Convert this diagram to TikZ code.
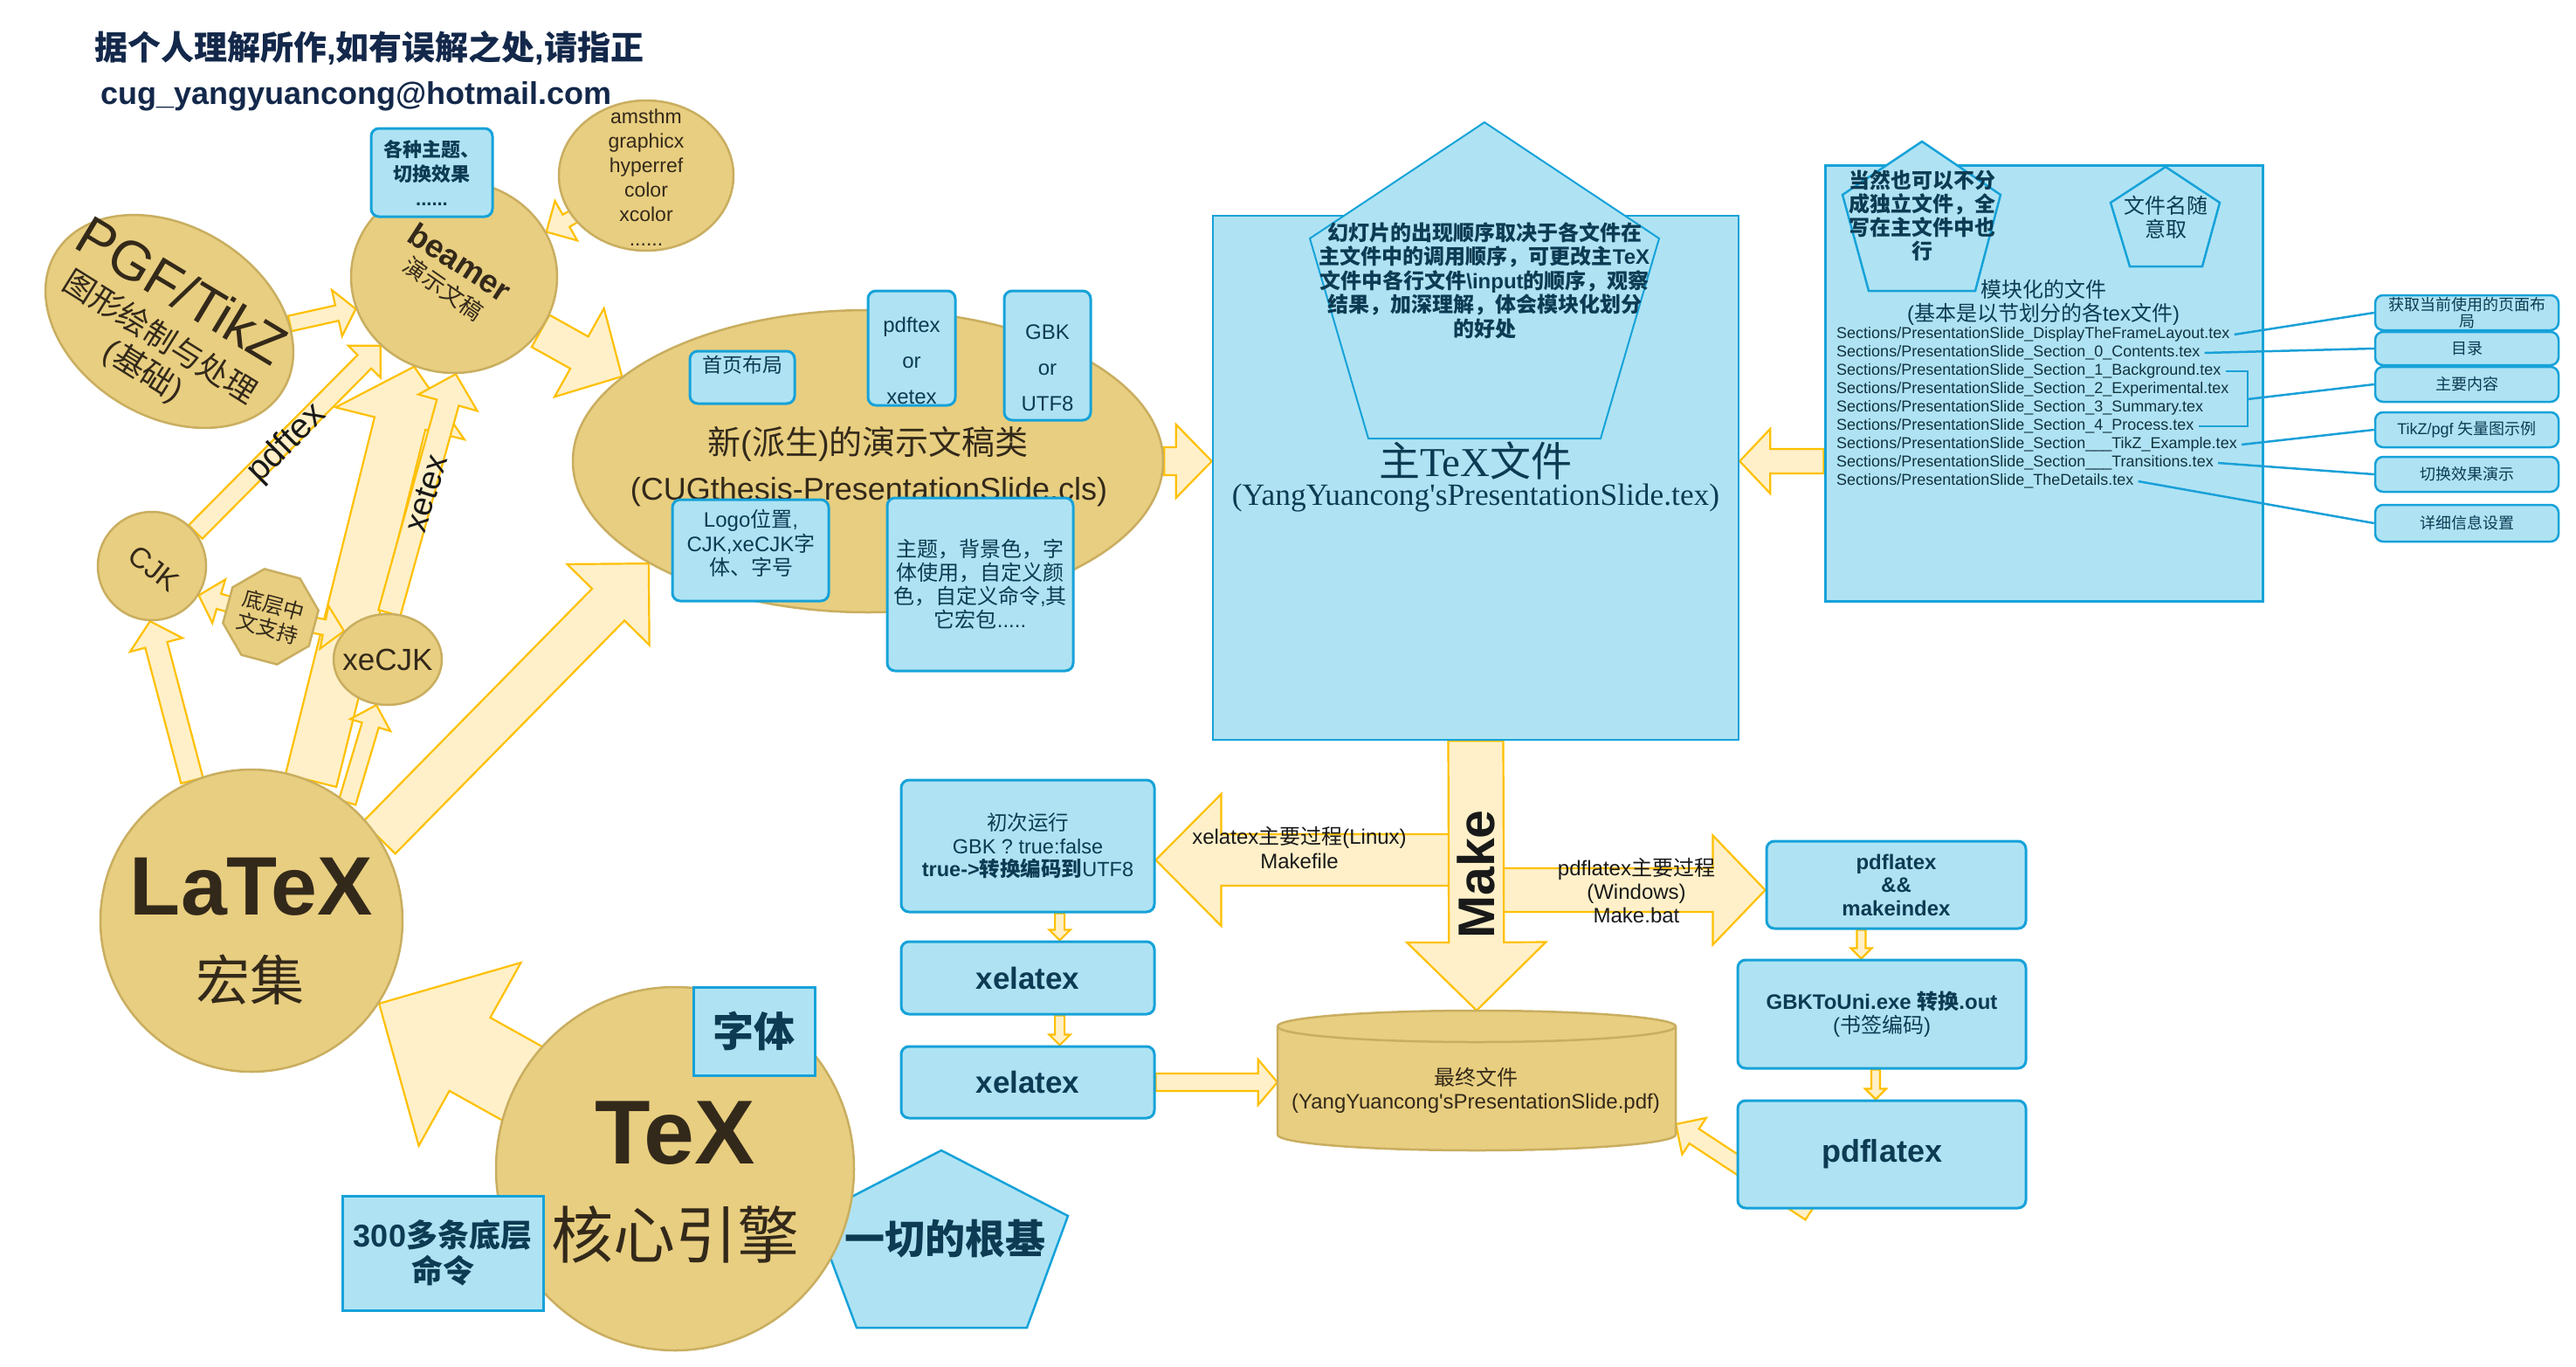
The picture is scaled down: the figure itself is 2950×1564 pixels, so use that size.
\documentclass[tikz,border=0pt]{standalone}
\usepackage{fontspec}
\setmainfont{Liberation Sans}
\newfontfamily\serifam{Liberation Serif}
\newfontfamily\cjkfam{Noto Sans CJK SC}[NFSSFamily=notocjk]
\usetikzlibrary{shapes.geometric,calc}

% chinese characters switch to Noto Sans CJK by themselves
\makeatletter
\chardef\cjkcls=7
\count@=0
\loop\ifnum\count@<"10000 \XeTeXcharclass\count@=0 \advance\count@ by 1 \repeat
\def\cjkrange#1#2{\count@=#1 \loop\ifnum\count@<#2 \XeTeXcharclass\count@=\cjkcls \advance\count@ by 1 \repeat}
\cjkrange{"2E80}{"A000}
\cjkrange{"F900}{"FB00}
\cjkrange{"FF00}{"FFF0}
\newif\ifcjkmode
\def\cjkon{\ifcjkmode\else\edef\latinfam{\f@family}\cjkfam\cjkmodetrue\fi}
\def\cjkoff{\ifcjkmode\fontfamily{\latinfam}\selectfont\cjkmodefalse\fi}
\XeTeXinterchartoks 0 \cjkcls = {\cjkon}
\XeTeXinterchartoks 4095 \cjkcls = {\cjkon}
\XeTeXinterchartoks \cjkcls 0 = {\cjkoff}
\XeTeXinterchartokenstate=1
\makeatother

\definecolor{goldfill}{HTML}{E8CE80}
\definecolor{golddraw}{HTML}{C9AE60}
\definecolor{goldtext}{HTML}{33291A}
\definecolor{boxfill}{HTML}{AFE3F3}
\definecolor{boxdraw}{HTML}{16A2D9}
\definecolor{tealtext}{HTML}{0C3B53}
\definecolor{sectext}{HTML}{12323F}
\definecolor{arrowfill}{HTML}{FFF0C9}
\definecolor{arrowdraw}{HTML}{FFC000}
\definecolor{linkblue}{HTML}{1AA0D8}
\definecolor{titletext}{HTML}{13284A}

\pgfdeclarelayer{paper}
\pgfdeclarelayer{under}
\pgfsetlayers{paper,under,main}

\newcommand\fsz[2]{\fontsize{#1}{#2}\selectfont}
% block arrow: tail, tip, half shaft, half head, head length
\newcommand\fatarrow[5]{%
  \coordinate (fa-a) at (#1);
  \coordinate (fa-b) at (#2);
  \coordinate (fa-h) at ($(fa-b)!#5!(fa-a)$);
  \filldraw[fat] ($(fa-a)!#3!90:(fa-b)$) -- ($(fa-h)!#3!90:(fa-b)$) -- ($(fa-h)!#4!90:(fa-b)$) -- (fa-b)
    -- ($(fa-h)!#4!-90:(fa-b)$) -- ($(fa-h)!#3!-90:(fa-b)$) -- ($(fa-a)!#3!-90:(fa-b)$) -- cycle;}

\begin{document}
\begin{tikzpicture}[x=1pt, y=-1pt]
\tikzset{
  gold/.style={ellipse, draw=golddraw, fill=goldfill, line width=2.5pt, inner sep=0pt},
  goldtxt/.style={text=goldtext, inner sep=0pt, align=center},
  bluebox/.style={draw=boxdraw, fill=boxfill, line width=3pt, rounded corners=9pt, inner sep=2pt, align=center, text=tealtext},
  squarebox/.style={bluebox, rounded corners=0pt},
  bluetxt/.style={text=tealtext, inner sep=0pt, align=center},
  fat/.style={draw=arrowdraw, fill=arrowfill, line width=2.2pt, line join=miter},
  link/.style={draw=linkblue, line width=2.5pt},
  secline/.style={anchor=west, inner ysep=1pt, inner xsep=5pt, text=sectext, font=\fsz{18}{21}},
  tag/.style={bluebox, minimum width=210pt, line width=2.5pt, inner sep=1pt, font=\fsz{18}{19}},
  penta/.style={draw=boxdraw, fill=boxfill, line width=2.5pt, line join=miter},
  cyl/.style={draw=golddraw, fill=goldfill, line width=2.5pt},
  note/.style={inner sep=0pt, align=center, text=black!90},
}

\useasboundingbox (0,0) rectangle (2950,1564);
\begin{pgfonlayer}{paper}
\fill[white] (0,0) rectangle (2950,1564);
\end{pgfonlayer}

\node[anchor=west, inner sep=0pt, text=titletext, font=\fsz{38}{40}\bfseries] (title) at (108,55) {据个人理解所作,如有误解之处,请指正};
\node[anchor=west, inner sep=0pt, text=titletext, font=\fsz{36}{40}\bfseries] (mail) at (115,110) {cug\_yangyuancong@hotmail.com};

% PGF, beamer, packages
\node[gold, rotate=-31, minimum width=304pt, minimum height=218pt] (pgf) at (194,368) {};
\node[goldtxt, rotate=-31, font=\fsz{63}{66}] (pgf-t) at (209,332) {PGF/TikZ};
\node[goldtxt, rotate=-32, font=\fsz{36}{40}] (pgf-cn) at (184,385) {图形绘制与处理};
\node[goldtxt, rotate=-32, font=\fsz{37}{40}] (pgf-base) at (164,425) {(基础)};

\node[gold, minimum width=200pt, minimum height=172pt] (ams) at (740,201) {};
\node[goldtxt, font=\fsz{23}{28}] (ams-t) at (740,203) {amsthm\\graphicx\\hyperref\\color\\xcolor\\......};

\node[gold, minimum width=236pt, minimum height=220pt] (beamer) at (520,317) {};
\node[goldtxt, rotate=-33, font=\fsz{37}{40}\bfseries] (beamer-t) at (527,300) {beamer};
\node[goldtxt, rotate=-35, font=\fsz{26}{30}] (beamer-cn) at (508,330) {演示文稿};
\node[bluebox, minimum width=139pt, minimum height=101pt, font=\fsz{22}{28}\bfseries] (themes) at (494.5,197.5) {各种主题、\\切换效果\\......};

% the new class
\node[gold, minimum width=676pt, minimum height=346pt] (cls) at (994,528) {};
\node[goldtxt, font=\fsz{38}{40}] (cls-cn) at (994,508) {新(派生)的演示文稿类};
\node[goldtxt, font=\fsz{36}{40}] (cls-t) at (995,563) {(CUGthesis-PresentationSlide.cls)};
\node[bluebox, minimum width=120pt, minimum height=60pt] (home) at (850,432) {};
\node[bluetxt, font=\fsz{23}{26}] (home-t) at (850,418) {首页布局};
\node[bluebox, minimum width=100pt, minimum height=131pt] (pdfx) at (1044,398.5) {};
\node[bluetxt, font=\fsz{24}{41}] (pdfx-t) at (1044,413) {pdftex\\or\\xetex};
\node[bluebox, minimum width=99pt, minimum height=148pt] (utf) at (1199.5,407) {};
\node[bluetxt, font=\fsz{24}{41}] (utf-t) at (1199.5,421) {GBK\\or\\UTF8};
\node[bluebox, minimum width=179pt, minimum height=116pt] (logo) at (859.5,630) {};
\node[bluetxt, font=\fsz{24}{27.5}] (logo-t) at (860,622) {Logo位置,\\CJK,xeCJK字\\体、字号};
\node[bluebox, minimum width=213pt, minimum height=198pt, font=\fsz{24}{27}] (theme) at (1122.5,669) {主题，背景色，字\\体使用，自定义颜\\色，自定义命令,其\\它宏包.....};

% CJK support
\node[gold, minimum width=124pt, minimum height=124pt] (cjk) at (174,648) {};
\node[goldtxt, rotate=-38, font=\fsz{33}{36}] (cjk-t) at (176,651) {CJK};
\node[gold, minimum width=124pt, minimum height=104pt] (xecjk) at (444,755) {};
\node[goldtxt, font=\fsz{35}{38}] (xecjk-t) at (444,755) {xeCJK};
\node[gold, regular polygon, regular polygon sides=8, rotate=-15, minimum size=108pt, text=goldtext, align=center, font=\fsz{24}{27}] (oct) at (310,706) {底层中\\文支持};

% LaTeX and TeX
\node[gold, minimum width=346pt, minimum height=346pt] (latex) at (288,1054) {};
\node[goldtxt, font=\fsz{95}{100}\bfseries] (latex-t) at (288,1015) {LaTeX};
\node[goldtxt, font=\fsz{62}{66}] (latex-cn) at (286,1122) {宏集};

\draw[penta] (1078,1317) -- (1223,1392) -- (1176,1520) -- (981,1520) -- (933,1392) -- cycle;
\node[gold, minimum width=410pt, minimum height=416pt] (tex) at (773,1338) {};
\node[goldtxt, font=\fsz{104}{110}\bfseries] (tex-t) at (773,1297) {TeX};
\node[goldtxt, font=\fsz{71}{75}] (tex-cn) at (773,1413) {核心引擎};
\node[squarebox, minimum width=139pt, minimum height=101pt, font=\fsz{47}{50}\bfseries] (ziti) at (863.5,1180.5) {字体};
\node[squarebox, minimum width=230pt, minimum height=131pt, font=\fsz{36}{41}\bfseries] (cmds) at (507,1434.5) {300多条底层\\命令};
\node[bluetxt, font=\fsz{46}{50}\bfseries] (root) at (1082,1418) {一切的根基};

% main file
\node[squarebox, line width=2.5pt, minimum width=602pt, minimum height=600pt] (main) at (1690,547) {};
\draw[penta, line width=2pt] (1700,140) -- (1900,273) -- (1833,502) -- (1567,502) -- (1500,273) -- cycle;
\node[bluetxt, font=\fsz{24}{27.5}\bfseries] (order) at (1700,321) {幻灯片的出现顺序取决于各文件在\\主文件中的调用顺序，可更改主TeX\\文件中各行文件\textbackslash input的顺序，观察\\结果，加深理解，体会模块化划分\\的好处};
\node[bluetxt, font=\serifam\fsz{47}{50}] (main-cn) at (1690,527) {主TeX文件};
\node[bluetxt, font=\serifam\fsz{35.4}{40}] (main-t) at (1690,570) {(YangYuancong\textquotesingle sPresentationSlide.tex)};

% section files
\node[squarebox, minimum width=501pt, minimum height=499pt] (mod) at (2340.5,438.5) {};
\draw[penta] (2201,162) -- (2291,223) -- (2262,333) -- (2140,333) -- (2110,223) -- cycle;
\draw[penta] (2480,191) -- (2542,232) -- (2522,305) -- (2439,305) -- (2417,232) -- cycle;
\node[bluetxt, font=\fsz{24}{27}\bfseries] (split) at (2201,247) {当然也可以不分\\成独立文件，全\\写在主文件中也\\行};
\node[bluetxt, font=\fsz{24}{27}] (names) at (2480,248.5) {文件名随\\意取};
\node[bluetxt, font=\fsz{24}{27}] (mod-t) at (2340,346.5) {模块化的文件\\(基本是以节划分的各tex文件)};

\node[secline] (s1) at (2098,383) {Sections/PresentationSlide\_DisplayTheFrameLayout.tex};
\node[secline] (s2) at (2098,404) {Sections/PresentationSlide\_Section\_0\_Contents.tex};
\node[secline] (s3) at (2098,425) {Sections/PresentationSlide\_Section\_1\_Background.tex};
\node[secline] (s4) at (2098,446) {Sections/PresentationSlide\_Section\_2\_Experimental.tex};
\node[secline] (s5) at (2098,467) {Sections/PresentationSlide\_Section\_3\_Summary.tex};
\node[secline] (s6) at (2098,488) {Sections/PresentationSlide\_Section\_4\_Process.tex};
\node[secline] (s7) at (2098,509) {Sections/PresentationSlide\_Section\_\_\_TikZ\_Example.tex};
\node[secline] (s8) at (2098,530) {Sections/PresentationSlide\_Section\_\_\_Transitions.tex};
\node[secline] (s9) at (2098,551) {Sections/PresentationSlide\_TheDetails.tex};

\node[tag, minimum height=40pt] (r1) at (2825,358) {获取当前使用的页面布\\局};
\node[tag, minimum height=38pt] (r2) at (2825,399) {目录};
\node[tag, minimum height=40pt] (r3) at (2825,440) {主要内容};
\node[tag, minimum height=40pt] (r4) at (2825,492) {TikZ/pgf 矢量图示例};
\node[tag, minimum height=40pt] (r5) at (2825,543) {切换效果演示};
\node[tag, minimum height=42pt] (r6) at (2825,599) {详细信息设置};

\coordinate (brace) at (2574,457);
\draw[link] (s1.east) -- (r1.west);
\draw[link] (s2.east) -- (r2.west);
\draw[link] (s3.east) -- (brace |- s3.east) -- (brace |- s6.east) -- (s6.east);
\draw[link] (brace) -- (r3.west);
\draw[link] (s7.east) -- (r4.west);
\draw[link] (s8.east) -- (r5.west);
\draw[link] (s9.east) -- (r6.west);

% build chains
\node[bluebox, minimum width=290pt, minimum height=151pt, font=\fsz{23.5}{26.5}] (first) at (1177,968.5) {初次运行\\GBK ? true:false\\{\bfseries true->转换编码到}UTF8};
\node[bluebox, minimum width=290pt, minimum height=83pt, font=\fsz{35}{38}\bfseries] (xl1) at (1177,1119.5) {xelatex};
\node[bluebox, minimum width=290pt, minimum height=82pt, font=\fsz{35}{38}\bfseries] (xl2) at (1177,1239) {xelatex};

\draw[cyl] (1463,1175) -- (1463,1299) arc[start angle=180, end angle=360, x radius=228pt, y radius=18pt]
  -- (1919,1175) arc[start angle=0, end angle=180, x radius=228pt, y radius=18pt] -- cycle;
\draw[cyl, fill=none] (1463,1175) arc[start angle=180, end angle=360, x radius=228pt, y radius=18pt];
\node[minimum width=456pt, minimum height=160pt, inner sep=0pt] (pdf) at (1691,1237) {};
\node[goldtxt, font=\fsz{24}{27}] (pdf-t) at (1690,1248.5) {最终文件\\(YangYuancong\textquotesingle sPresentationSlide.pdf)};

\node[bluebox, minimum width=297pt, minimum height=100pt, font=\fsz{24}{26.5}\bfseries] (mi) at (2171.5,1013) {pdflatex\\\&\&\\makeindex};
\node[bluebox, minimum width=330pt, minimum height=124pt, font=\fsz{24}{27}] (gbk) at (2155,1161) {{\bfseries GBKToUni.exe 转换.out}\\(书签编码)};
\node[bluebox, minimum width=330pt, minimum height=123pt, font=\fsz{36}{40}\bfseries] (pl) at (2155,1321.5) {pdflatex};

\coordinate (mk1) at (1690,984.5);
\coordinate (mk2) at (1690,1019);
\coordinate (mi-arr) at ([xshift=-40pt]mi.south);
\coordinate (gbk-arr) at ([xshift=-7pt]gbk.south);
\coordinate (pltail) at (2073,1388);

% labels on the arrows
\node[note, rotate=45, font=\fsz{40}{44}] (lbl-pdftex) at (329,508) {pdftex};
\node[note, rotate=73, font=\fsz{38}{42}] (lbl-xetex) at (488,565) {xetex};
\node[note, font=\fsz{24}{28}] (linux) at (1488,971) {xelatex主要过程(Linux)\\Makefile};
\node[note, font=\fsz{24}{27}] (win) at (1874,1020) {pdflatex主要过程\\(Windows)\\Make.bat};

\begin{pgfonlayer}{under}
\fatarrow{latex.67}{beamer.246}{30pt}{76pt}{67pt}
\fatarrow{xecjk.88}{beamer.271}{13pt}{35pt}{34pt}
\fatarrow{latex.51}{xecjk.256}{10pt}{24pt}{24pt}
\fatarrow{oct.center}{cjk.-32}{9pt}{26pt}{24pt}
\fatarrow{oct.center}{xecjk.147}{9pt}{25pt}{23pt}
\fatarrow{cjk.38}{beamer.223}{11pt}{26pt}{26pt}
\fatarrow{latex.113}{cjk.268}{13pt}{31pt}{28pt}
\fatarrow{latex.33}{cls.205}{26pt}{66pt}{66pt}
\fatarrow{pgf.30}{beamer.198}{9pt}{27pt}{22pt}
\fatarrow{beamer.-32}{cls.161}{21pt}{58pt}{56pt}
\fatarrow{ams.center}{beamer.26}{8pt}{26pt}{26pt}
\fatarrow{tex.center}{latex.-33}{48pt}{120pt}{119pt}
\fatarrow{cls.east}{main.west |- cls.east}{16pt}{42pt}{41pt}
\fatarrow{mod.west |- cls.east}{main.east |- cls.east}{14pt}{37pt}{35pt}
\fatarrow{pdfx.east}{utf.west |- pdfx.east}{4.5pt}{13pt}{15pt}
\fatarrow{mk1}{first.east |- mk1}{29.5pt}{75.5pt}{75pt}
\fatarrow{mk2}{mi.west |- mk2}{25pt}{62.5pt}{60pt}
\fatarrow{main.south}{pdf.north}{31.5pt}{79.5pt}{78pt}
\fatarrow{$(first.south)!0.25!(first.south east)$}{$(xl1.north)!0.25!(xl1.north east)$}{5.5pt}{12pt}{12pt}
\fatarrow{$(xl1.south)!0.25!(xl1.south east)$}{$(xl2.north)!0.25!(xl2.north east)$}{5.5pt}{12pt}{12pt}
\fatarrow{xl2.east}{pdf.west |- xl2.east}{10pt}{26pt}{22pt}
\fatarrow{mi-arr}{mi-arr |- gbk.north}{5pt}{12pt}{12pt}
\fatarrow{gbk-arr}{gbk-arr |- pl.north}{5pt}{12pt}{12pt}
\fatarrow{pltail}{[yshift=-50pt]pdf.east}{10pt}{25pt}{25pt}
\end{pgfonlayer}

\node[note, rotate=90, font=\fsz{59}{62}\bfseries] (make) at (1690,1001) {Make};

\end{tikzpicture}
\end{document}
